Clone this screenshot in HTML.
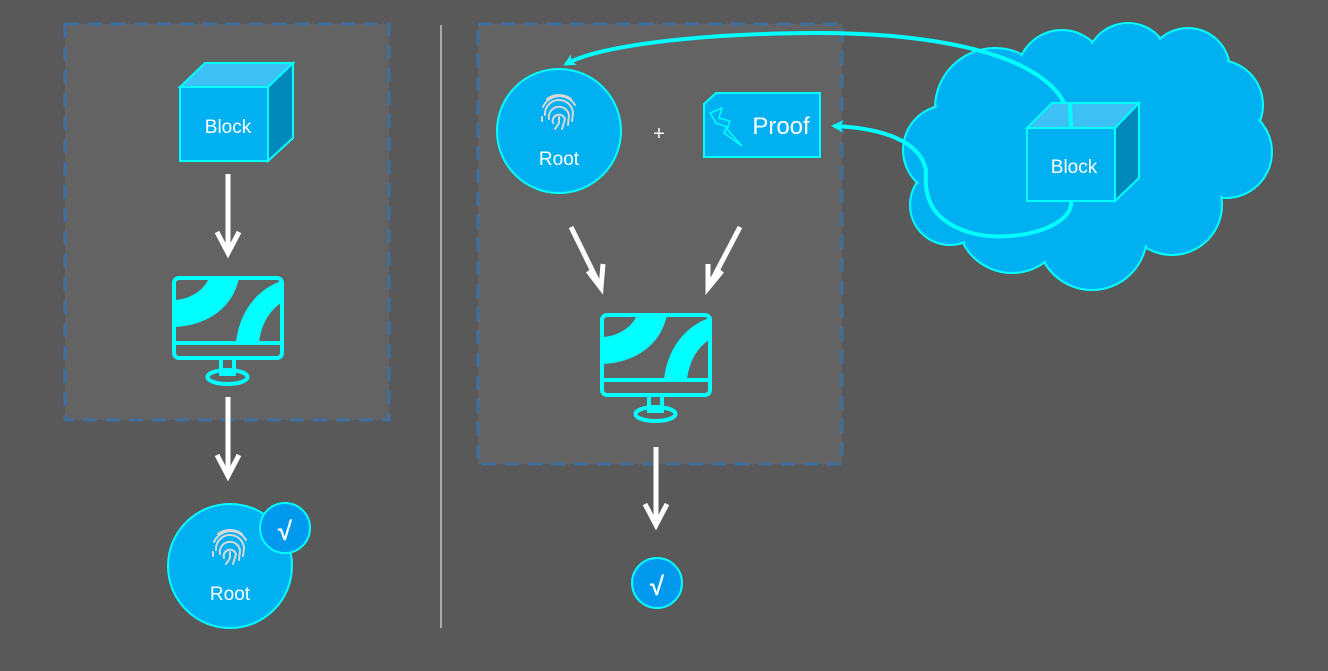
<!DOCTYPE html>
<html><head><meta charset="utf-8"><style>
html,body{margin:0;padding:0;background:#595959;}
svg{display:block;font-family:"Liberation Sans",sans-serif;}
</style></head><body>
<svg width="1328" height="671" viewBox="0 0 1328 671" xmlns="http://www.w3.org/2000/svg">
<defs>
<marker id="ah" markerWidth="14" markerHeight="14" refX="9" refY="6" orient="auto" markerUnits="userSpaceOnUse"><path d="M0,0 L12,6 L0,12 L3,6 Z" fill="#00ffff"/></marker>
<g id="fp" fill="none" stroke="#d8d8d8" stroke-width="2" stroke-linecap="round">
<path d="M-16,-6 A18,18 0 0 1 16,-8"/>
<path d="M-14,2 A14,14 0 0 1 14,0 L13,8"/>
<path d="M-10,6 A10,10 0 0 1 10,2 L9,12"/>
<path d="M-6,10 A6,6 0 0 1 6,6 L3,16"/>
<path d="M0,4 L0,10 L-4,16"/>
<path d="M-12,-14 A20,20 0 0 1 12,-14"/>
<path d="M-17,4 L-17,8"/>
</g>
<g id="mon">
<rect x="3" y="3" width="108" height="80" rx="5" fill="none" stroke="#00ffff" stroke-width="4"/>
<path d="M38,3 C33,15 20,24 4,25 L4,52 C38,50 62,32 68,3 Z" fill="#00ffff"/>
<path d="M65,68 C68,38 85,15 110,6 L110,28 C98,36 90,50 88,68 Z" fill="#00ffff"/>
<line x1="3" y1="68" x2="111" y2="68" stroke="#00ffff" stroke-width="4"/>
<rect x="50" y="83" width="13" height="16" fill="none" stroke="#00ffff" stroke-width="4"/>
<ellipse cx="56.5" cy="102" rx="20" ry="7" fill="none" stroke="#00ffff" stroke-width="4"/>
</g>
</defs>

<!-- panels -->
<rect x="65" y="24" width="324" height="396" fill="#636363" stroke="#3f6f9f" stroke-width="3" stroke-dasharray="14,9"/>
<rect x="478" y="24" width="364" height="440" fill="#636363" stroke="#3f6f9f" stroke-width="3" stroke-dasharray="14,9"/>
<line x1="441" y1="25" x2="441" y2="628" stroke="#e0e0e0" stroke-width="1.2"/>

<!-- left block -->
<polygon points="180,87 205,63 293,63 268,87" fill="#3dc1f5" stroke="#00ffff" stroke-width="2"/>
<polygon points="268,87 293,63 293,138 268,161" fill="#0088bb" stroke="#00ffff" stroke-width="2"/>
<rect x="180" y="87" width="88" height="74" fill="#00b0f0" stroke="#00ffff" stroke-width="2"/>
<text x="228" y="133" font-size="19" fill="#fff" text-anchor="middle">Block</text>

<!-- arrows white -->
<g stroke="#fff" stroke-width="5" fill="none" stroke-linecap="butt">
<line x1="228" y1="174" x2="228" y2="252"/><polyline points="217,232 228,253 239,232"/>
<line x1="228" y1="397" x2="228" y2="475"/><polyline points="217,455 228,476 239,455"/>
<line x1="656" y1="447" x2="656" y2="524"/><polyline points="645,504 656,525 667,504"/>
<line x1="571" y1="227" x2="600" y2="286"/><polyline points="588,271 601,288 603,264"/>
<line x1="740" y1="227" x2="709" y2="286"/><polyline points="708,264 708,288 722,271"/>
</g>

<use href="#mon" x="171" y="275"/>
<use href="#mon" x="599" y="312"/>

<!-- left root -->
<circle cx="230" cy="566" r="62" fill="#00b0f0" stroke="#00ffff" stroke-width="2"/>
<use href="#fp" x="230" y="548"/>
<text x="230" y="600" font-size="19" fill="#fff" text-anchor="middle">Root</text>
<circle cx="285" cy="528" r="25" fill="#0099ee" stroke="#00ffff" stroke-width="2"/>
<text x="285" y="540" font-size="26" fill="#fff" text-anchor="middle" font-weight="bold">√</text>

<!-- right root -->
<circle cx="559" cy="131" r="62" fill="#00b0f0" stroke="#00ffff" stroke-width="2"/>
<use href="#fp" x="559" y="113"/>
<text x="559" y="165" font-size="19" fill="#fff" text-anchor="middle">Root</text>
<text x="659" y="140" font-size="20" fill="#fff" text-anchor="middle">+</text>

<!-- proof -->
<path d="M704,104 L716,93 L820,93 L820,157 L704,157 Z" fill="#00b0f0" stroke="#00ffff" stroke-width="2"/>
<path d="M710,113 L722,108 L719,118 L730,121 L727,129 L742,146 L724,133 L727,127 L716,123 Z" fill="none" stroke="#00ffff" stroke-width="1.5"/>
<text x="781" y="134" font-size="24" fill="#fff" text-anchor="middle">Proof</text>

<!-- check -->
<circle cx="657" cy="583" r="25" fill="#0099ee" stroke="#00ffff" stroke-width="2"/>
<text x="657" y="595" font-size="26" fill="#fff" text-anchor="middle" font-weight="bold">√</text>

<!-- cloud -->
<g fill="#00b0f0" stroke="#00ffff" stroke-width="2">
<circle cx="995" cy="108" r="60"/><circle cx="1062" cy="75" r="45"/><circle cx="1128" cy="65" r="42"/>
<circle cx="1188" cy="70" r="42"/><circle cx="1218" cy="105" r="45"/><circle cx="1226" cy="152" r="46"/>
<circle cx="1172" cy="205" r="50"/><circle cx="1092" cy="235" r="55"/><circle cx="1012" cy="218" r="55"/>
<circle cx="950" cy="205" r="40"/><circle cx="948" cy="150" r="45"/>
</g>
<g fill="#00b0f0">
<circle cx="995" cy="108" r="58"/><circle cx="1062" cy="75" r="43"/><circle cx="1128" cy="65" r="40"/>
<circle cx="1188" cy="70" r="40"/><circle cx="1218" cy="105" r="43"/><circle cx="1226" cy="152" r="44"/>
<circle cx="1172" cy="205" r="48"/><circle cx="1092" cy="235" r="53"/><circle cx="1012" cy="218" r="53"/>
<circle cx="950" cy="205" r="38"/><circle cx="948" cy="150" r="43"/>
<ellipse cx="1085" cy="155" rx="140" ry="80"/>
</g>

<!-- connectors -->
<path d="M1070,127 C1070,60 950,32 810,33 C700,34 600,45 566,64" fill="none" stroke="#00ffff" stroke-width="4" marker-end="url(#ah)"/>
<path d="M1071,200 C1075,228 1010,245 968,232 C925,218 925,190 926,170 C920,140 880,128 834,126" fill="none" stroke="#00ffff" stroke-width="4" marker-end="url(#ah)"/>

<!-- cloud block -->
<polygon points="1027,128 1052,103 1139,103 1115,128" fill="#3dc1f5" stroke="#00ffff" stroke-width="2"/>
<polygon points="1115,128 1139,103 1139,178 1115,201" fill="#0088bb" stroke="#00ffff" stroke-width="2"/>
<rect x="1027" y="128" width="88" height="73" fill="#00b0f0" stroke="#00ffff" stroke-width="2"/>
<path d="M1070,103 L1071,127" stroke="#00ffff" stroke-width="4"/>
<text x="1074" y="173" font-size="19" fill="#fff" text-anchor="middle">Block</text>
</svg>
</body></html>
